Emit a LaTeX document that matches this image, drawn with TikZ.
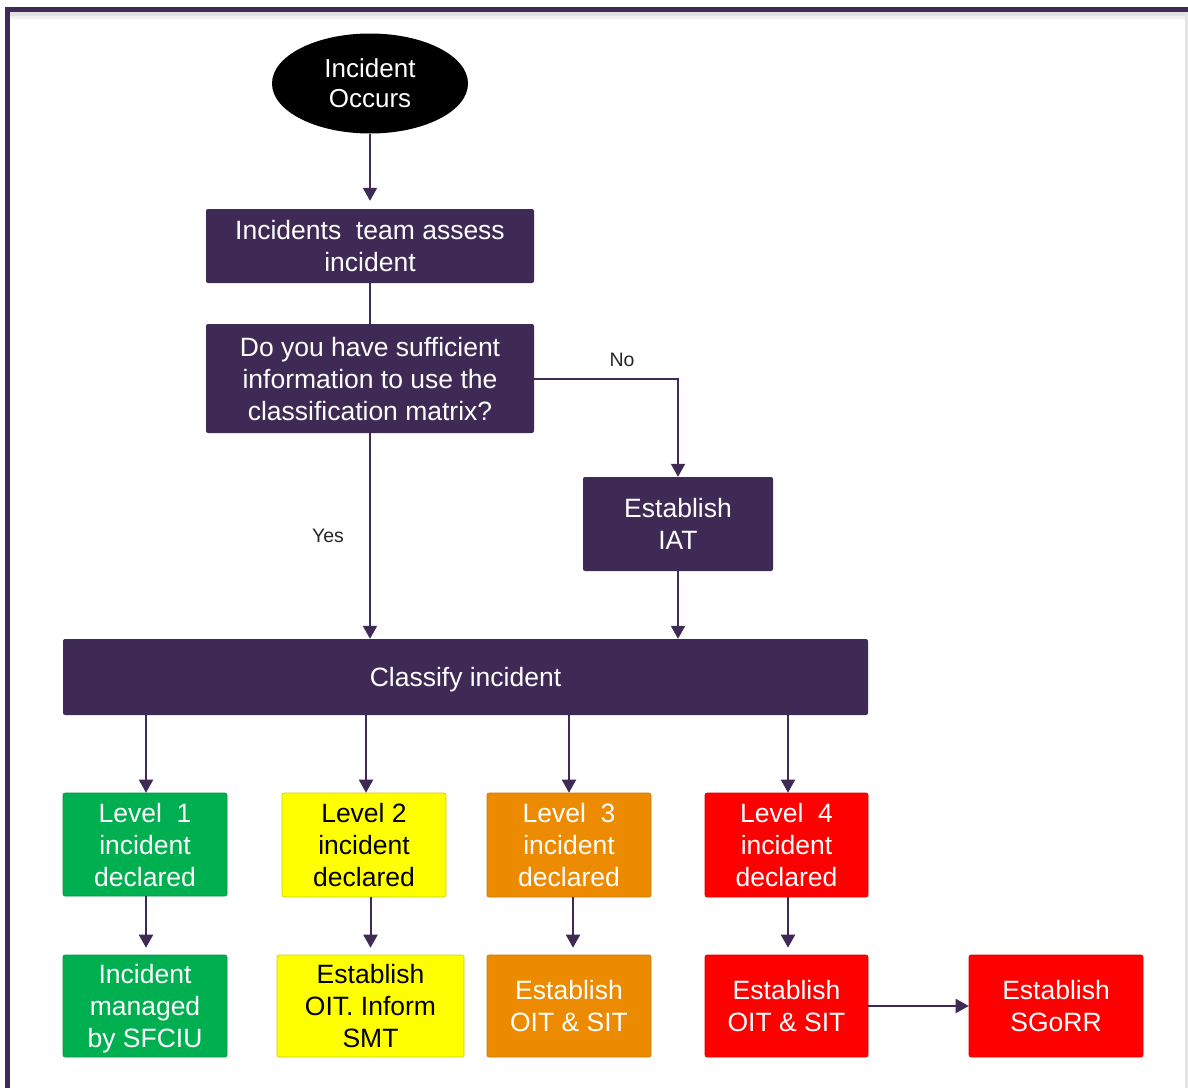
\documentclass[tikz,border=0pt]{standalone}
\usepackage{fontspec}
\setmainfont{Liberation Sans}
\usetikzlibrary{shapes.geometric,arrows.meta}
\definecolor{plum}{HTML}{3F2A56}
\definecolor{lvgreen}{HTML}{00B050}
\definecolor{lvyellow}{HTML}{FFFF00}
\definecolor{lvorange}{HTML}{ED8B00}
\definecolor{lvred}{HTML}{FF0000}
\begin{document}
\begin{tikzpicture}[x=1pt,y=-1pt,
  box/.style={rectangle, rounded corners=2pt, inner sep=0pt, align=center,
    font=\fontsize{26.5}{32}\selectfont, text=white, text depth=0pt},
  purplebox/.style={box, fill=plum},
  greenbox/.style={box, fill=lvgreen, draw=lvgreen!85!black, line width=0.6pt},
  yellowbox/.style={box, fill=lvyellow, draw=lvyellow!80!black, line width=0.6pt, text=black},
  orangebox/.style={box, fill=lvorange, draw=lvorange!85!black, line width=0.6pt},
  redbox/.style={box, fill=lvred, draw=lvred!85!black, line width=0.6pt},
  link/.style={draw=plum, line width=2pt},
  arrowlink/.style={link, -{Triangle[length=13pt,width=14pt]}},
  tag/.style={font=\fontsize{19.5}{22}\selectfont, text=black!85}
]
\useasboundingbox (0,0) rectangle (1188,1087);
\fill[white] (0,0) rectangle (1188,1087);

% page frame with its soft shadow
\fill[black!12] (10,12) rectangle (1200,16);
\fill[black!6] (10,16) rectangle (1200,19);
\fill[black!10] (1185,12) rectangle (1188,1100);
\draw[plum, line width=5pt] (7,1100) -- (7,9) -- (1200,9);

% start
\node[ellipse, fill=black, text=white, inner sep=0pt, align=center,
      minimum width=196pt, minimum height=100pt,
      font=\fontsize{26}{30}\selectfont] (occ) at (370,83.5) {Incident\\Occurs};

% assessment and decision
\node[purplebox, minimum width=328pt, minimum height=74pt] (assess) at (370,246)
  {Incidents\ \ team assess\\incident};
\node[purplebox, minimum width=328pt, minimum height=109pt] (info) at (370,378.5)
  {Do you have sufficient\\information to use the\\classification matrix?};
\node[purplebox, minimum width=190pt, minimum height=94pt] (iat) at (678,524)
  {Establish\\IAT};
\node[purplebox, minimum width=805pt, minimum height=76pt] (classify) at (465.5,677)
  {Classify incident};

% levels
\node[greenbox, minimum width=164pt, minimum height=103pt] (l1) at (145,844.5)
  {Level\ \ 1\\incident\\declared};
\node[yellowbox, minimum width=164pt, minimum height=104pt] (l2) at (364,845)
  {Level 2\\incident\\declared};
\node[orangebox, minimum width=164pt, minimum height=104pt] (l3) at (569,845)
  {Level\ \ 3\\incident\\declared};
\node[redbox, minimum width=163pt, minimum height=104pt] (l4) at (786.5,845)
  {Level\ \ 4\\incident\\declared};

% responses
\node[greenbox, minimum width=164pt, minimum height=102pt] (b1) at (145,1006)
  {Incident\\managed\\by SFCIU};
\node[yellowbox, minimum width=187pt, minimum height=102pt] (b2) at (370.5,1006)
  {Establish\\OIT. Inform\\SMT};
\node[orangebox, minimum width=164pt, minimum height=102pt] (b3) at (569,1006)
  {Establish\\OIT \& SIT};
\node[redbox, minimum width=163pt, minimum height=102pt] (b4) at (786.5,1006)
  {Establish\\OIT \& SIT};
\node[redbox, minimum width=174pt, minimum height=102pt] (sgorr) at (1056,1006)
  {Establish\\SGoRR};

% connectors
\draw[arrowlink, shorten >=8pt] (occ) -- (assess);
\draw[link] (assess) -- (info);
\draw[arrowlink] (info.south) -- (info.south |- classify.north)
  node[tag, pos=0.5, xshift=-42pt] (yes) {Yes};
\draw[arrowlink] (info.east) -| (iat.north);
\node[tag] (no) at (622,360) {No};
\draw[arrowlink] (iat.south) -- (iat.south |- classify.north);

\foreach \n/\dx in {l1/1, l2/2, l3/0, l4/1.5} {
  \draw[arrowlink] ([xshift=\dx pt]\n.north |- classify.south) -- ([xshift=\dx pt]\n.north);
}
\draw[arrowlink, shorten >=7pt] ([xshift=1pt]l1.south) -- ([xshift=1pt]b1.north);
\draw[arrowlink, shorten >=7pt] (b2.north |- l2.south) -- (b2.north);
\draw[arrowlink, shorten >=7pt] ([xshift=4pt]l3.south) -- ([xshift=4pt]b3.north);
\draw[arrowlink, shorten >=7pt] ([xshift=1.5pt]l4.south) -- ([xshift=1.5pt]b4.north);
\draw[arrowlink] (b4.east) -- (sgorr.west);
\end{tikzpicture}
\end{document}
